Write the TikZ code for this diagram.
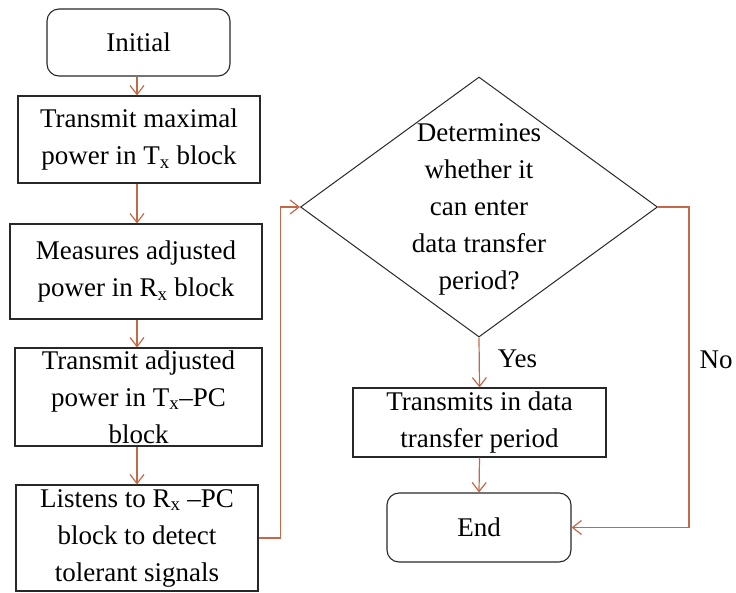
\documentclass[tikz,border=0pt]{standalone}
\usepackage{fontspec}
\setmainfont{Liberation Serif}
\usetikzlibrary{shapes.geometric,arrows.meta}
\definecolor{flowline}{RGB}{196,104,72}
\definecolor{boxline}{RGB}{40,40,40}
\begin{document}
\begin{tikzpicture}[x=1pt,y=-1pt,
  every node/.style={font=\fontsize{27}{37}\selectfont, align=center, inner sep=0pt},
  stepbox/.style={draw=boxline, line width=1.1pt, rectangle},
  terminal/.style={draw=boxline, line width=1.1pt, rectangle, rounded corners=12pt},
  decision/.style={draw=boxline, line width=1pt, diamond, minimum width=357pt, minimum height=260pt},
  flow/.style={draw=flowline, line width=1.2pt, -{Straight Barb[length=9pt,width=14pt]}},
  lbl/.style={font=\fontsize{27}{37}\selectfont}
]
\useasboundingbox (0,0) rectangle (736,592);
% left column
\node[terminal, minimum width=183pt, minimum height=67pt] (init) at (138.5,42.5) {Initial};
\node[stepbox, minimum width=242pt, minimum height=87pt] (tx) at (139,139.5)
  {Transmit maximal\\power in T\textsubscript{x} block};
\node[stepbox, minimum width=252pt, minimum height=95pt] (rx) at (136,271.5)
  {Measures adjusted\\power in R\textsubscript{x} block};
\node[stepbox, minimum width=247pt, minimum height=98pt] (txpc) at (138.5,397)
  {Transmit adjusted\\power in T\textsubscript{x}–PC\\block};
\node[stepbox, minimum width=242pt, minimum height=106pt] (listen) at (137,538)
  {Listens to R\textsubscript{x} –PC\\block to detect\\tolerant signals};
% right column
\node[decision] (dec) at (479,207) {};
\node (dectext) at (479,209) {Determines\\whether it\\can enter\\data transfer\\period?};
\node[stepbox, minimum width=253pt, minimum height=69pt] (send) at (479.5,422.5)
  {Transmits in data\\transfer period};
\node[terminal, minimum width=184pt, minimum height=69pt] (fin) at (479,527.5) {End};
% connectors
\draw[flow] (init.south -| 137,0) -- (tx.north -| 137,0);
\draw[flow] (tx.south -| 137,0) -- (rx.north -| 137,0);
\draw[flow] (rx.south -| 137,0) -- (txpc.north -| 137,0);
\draw[flow] (txpc.south -| 137,0) -- (listen.north -| 137,0);
\draw[flow] (listen.east) -- ++(22,0) |- (dec.west);
\draw[flow] (dec.south) -- node[lbl, right=18pt, pos=0.42] (yes) {Yes} (send.north);
\draw[flow] (send.south) -- (fin.north);
\draw[flow] (dec.east) -- ++(31,0) |- (fin.east);
\node[lbl] (no) at (716,360) {No};
\end{tikzpicture}
\end{document}
